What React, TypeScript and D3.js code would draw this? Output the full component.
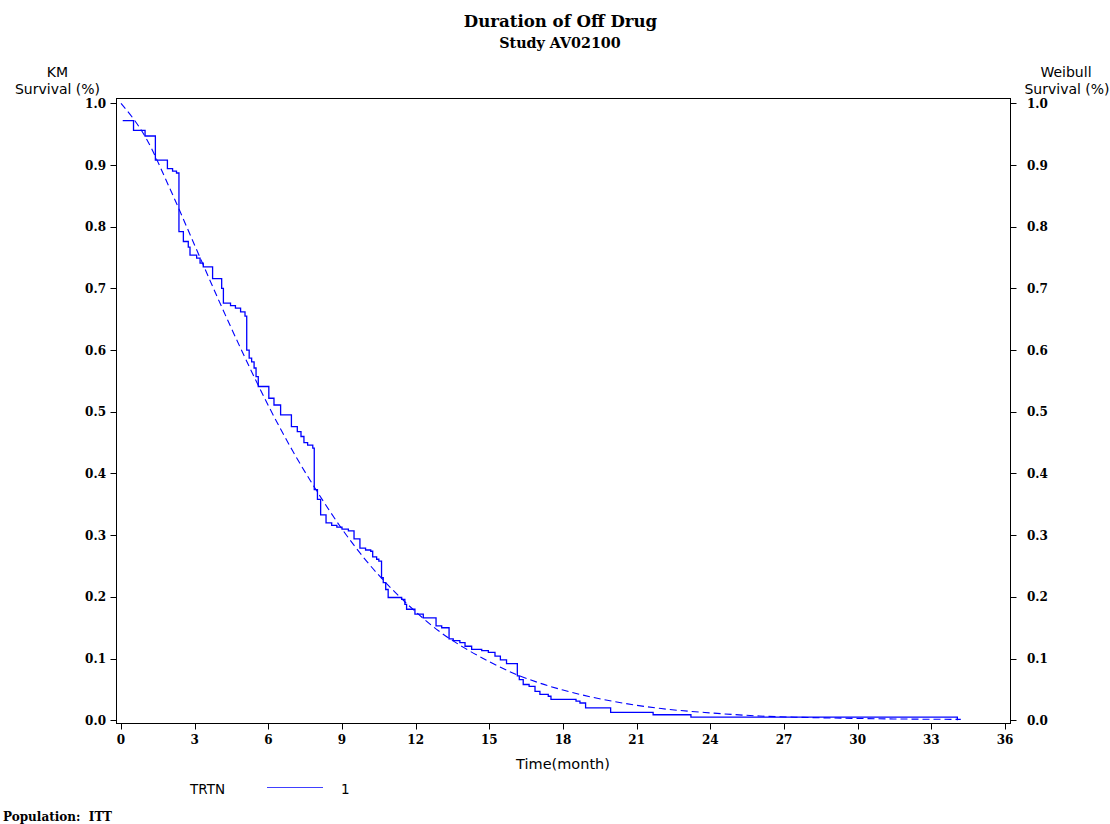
import React from "react";
import * as d3 from "d3";

const TITLE = "Duration of Off Drug";
const SUBTITLE = "Study AV02100";
const FOOTNOTE = "Population:  ITT";
const X_LABEL = "Time(month)";
const Y_LEFT_LABEL = ["KM", "Survival (%)"];
const Y_RIGHT_LABEL = ["Weibull", "Survival (%)"];
const LEGEND_TITLE = "TRTN";
const LEGEND_GROUP = "1";

const X_TICKS = [0, 3, 6, 9, 12, 15, 18, 21, 24, 27, 30, 33, 36];
const Y_TICKS = [0, 0.1, 0.2, 0.3, 0.4, 0.5, 0.6, 0.7, 0.8, 0.9, 1.0];

// Kaplan-Meier step curve: time (months) at each step and survival after it
const KM_TIME = [
  0.07, 0.51, 0.98, 1.4, 1.89, 2.1, 2.26, 2.36, 2.54, 2.74, 2.81, 3.08, 3.22, 3.35,
  3.73, 4.1, 4.17, 4.46, 4.66, 4.87, 5.05, 5.12, 5.22, 5.32, 5.42, 5.5, 5.59, 6.02,
  6.23, 6.5, 6.94, 7.18, 7.33, 7.45, 7.6, 7.81, 7.87, 8.0, 8.13, 8.35, 8.58, 8.79,
  9.0, 9.26, 9.49, 9.73, 9.96, 10.17, 10.25, 10.41, 10.5, 10.61, 10.68, 10.78,
  10.88, 11.43, 11.56, 11.63, 11.97, 12.31, 12.83, 13.06, 13.36, 13.53, 13.8,
  14.01, 14.28, 14.69, 14.96, 15.23, 15.45, 15.7, 16.14, 16.22, 16.38, 16.62,
  16.86, 17.06, 17.4, 17.51, 18.53, 18.69, 18.92, 19.94, 21.67, 23.21, 34.06,
];
const KM_SURV = [
  0.972, 0.956, 0.947, 0.908, 0.894, 0.89, 0.887, 0.792, 0.776, 0.767, 0.754, 0.749,
  0.741, 0.735, 0.716, 0.7, 0.676, 0.672, 0.668, 0.662, 0.655, 0.6, 0.587, 0.581,
  0.571, 0.557, 0.541, 0.522, 0.511, 0.495, 0.476, 0.468, 0.46, 0.45, 0.446, 0.441,
  0.374, 0.358, 0.333, 0.32, 0.316, 0.313, 0.31, 0.307, 0.294, 0.279, 0.276, 0.274,
  0.265, 0.261, 0.258, 0.231, 0.223, 0.212, 0.199, 0.196, 0.188, 0.18, 0.172, 0.166,
  0.153, 0.15, 0.132, 0.129, 0.126, 0.12, 0.115, 0.113, 0.11, 0.104, 0.098, 0.092,
  0.072, 0.066, 0.058, 0.055, 0.047, 0.042, 0.039, 0.034, 0.031, 0.028, 0.02, 0.013,
  0.009, 0.005, 0.0,
];

// Weibull fitted survival
const WB_TIME = [0, 1, 2, 3, 4, 5, 6, 7, 8, 9, 10, 11, 12, 13, 14, 15, 16, 17, 18, 20, 22, 24, 26, 28, 30, 32, 34.2];
const WB_SURV = [
  1.0, 0.945, 0.861, 0.77, 0.679, 0.592, 0.51, 0.436, 0.37, 0.31, 0.258, 0.214, 0.176,
  0.143, 0.117, 0.095, 0.076, 0.061, 0.049, 0.031, 0.019, 0.012, 0.007, 0.0045,
  0.003, 0.002, 0.0015,
];

const serif = "'DejaVu Serif', serif";
const sans = "'DejaVu Sans', sans-serif";

export default function App() {
  const W = 1110;
  const H = 824;
  const left = 116.5;
  const right = 1010.5;
  const top = 98.5;
  const bottom = 723.5;

  const x = d3.scaleLinear().domain([0, 36]).range([121, 1005]);
  const y = d3.scaleLinear().domain([0, 1]).range([720.3, 103.3]);

  const kmData = KM_TIME.map((t, i) => [t, KM_SURV[i]] as [number, number]);
  const wbData = WB_TIME.map((t, i) => [t, WB_SURV[i]] as [number, number]);

  const kmLine = d3
    .line<[number, number]>()
    .x((d) => x(d[0]))
    .y((d) => y(d[1]))
    .curve(d3.curveStepAfter);
  const wbLine = d3
    .line<[number, number]>()
    .x((d) => x(d[0]))
    .y((d) => y(d[1]))
    .curve(d3.curveMonotoneX);

  const blue = "#0000ff";

  return (
    <svg
      width={W}
      height={H}
      style={{ position: "absolute", left: 0, top: 0, background: "#fff" }}
    >
      <rect x={0} y={0} width={W} height={H} fill="#fff" />
      {/* Titles */}
      <text x={560.5} y={27} textAnchor="middle" fontFamily={serif} fontWeight="bold" fontSize={16.6}>
        {TITLE}
      </text>
      <text x={560} y={48} textAnchor="middle" fontFamily={serif} fontWeight="bold" fontSize={14.3}>
        {SUBTITLE}
      </text>

      {/* Axis titles */}
      <text x={57.5} y={77} textAnchor="middle" fontFamily={sans} fontSize={14}>
        {Y_LEFT_LABEL[0]}
      </text>
      <text x={57.5} y={93.5} textAnchor="middle" fontFamily={sans} fontSize={14}>
        {Y_LEFT_LABEL[1]}
      </text>
      <text x={1066} y={77} textAnchor="middle" fontFamily={sans} fontSize={14}>
        {Y_RIGHT_LABEL[0]}
      </text>
      <text x={1067} y={93.5} textAnchor="middle" fontFamily={sans} fontSize={14}>
        {Y_RIGHT_LABEL[1]}
      </text>

      {/* Frame */}
      <rect
        x={left}
        y={top}
        width={right - left}
        height={bottom - top}
        fill="none"
        stroke="#000"
        strokeWidth={1}
      />

      {/* Y ticks, left and right */}
      {Y_TICKS.map((v) => (
        <g key={"y" + v}>
          <line x1={left - 6} x2={left} y1={Math.round(y(v)) + 0.5} y2={Math.round(y(v)) + 0.5} stroke="#000" />
          <line x1={right} x2={right + 6} y1={Math.round(y(v)) + 0.5} y2={Math.round(y(v)) + 0.5} stroke="#000" />
          <text
            x={106}
            y={y(v) + 4.5}
            textAnchor="end"
            fontFamily={serif}
            fontWeight="bold"
            fontSize={12}
          >
            {v.toFixed(1)}
          </text>
          <text
            x={1027}
            y={y(v) + 4.5}
            textAnchor="start"
            fontFamily={serif}
            fontWeight="bold"
            fontSize={12}
          >
            {v.toFixed(1)}
          </text>
        </g>
      ))}

      {/* X ticks */}
      {X_TICKS.map((v) => (
        <g key={"x" + v}>
          <line
            x1={Math.round(x(v)) + 0.5}
            x2={Math.round(x(v)) + 0.5}
            y1={bottom}
            y2={bottom + 6}
            stroke="#000"
          />
          <text
            x={x(v)}
            y={744}
            textAnchor="middle"
            fontFamily={serif}
            fontWeight="bold"
            fontSize={12}
          >
            {v}
          </text>
        </g>
      ))}
      <text x={563} y={769} textAnchor="middle" fontFamily={sans} fontSize={14.5}>
        {X_LABEL}
      </text>

      {/* Curves */}
      <path d={wbLine(wbData) || ""} fill="none" stroke={blue} strokeWidth={1.1} strokeDasharray="7,4" />
      <path d={kmLine(kmData) || ""} fill="none" stroke={blue} strokeWidth={1.3} />

      {/* Legend */}
      <text x={190} y={794} fontFamily={sans} fontSize={13.5}>
        {LEGEND_TITLE}
      </text>
      <line x1={267} x2={323} y1={787.5} y2={787.5} stroke="#4040ff" strokeWidth={1} />
      <text x={341} y={794} fontFamily={sans} fontSize={13.5}>
        {LEGEND_GROUP}
      </text>

      {/* Footnote */}
      <text
        x={3}
        y={821}
        fontFamily={serif}
        fontWeight="bold"
        fontSize={12}
        style={{ whiteSpace: "pre" }}
      >
        {FOOTNOTE}
      </text>
    </svg>
  );
}
